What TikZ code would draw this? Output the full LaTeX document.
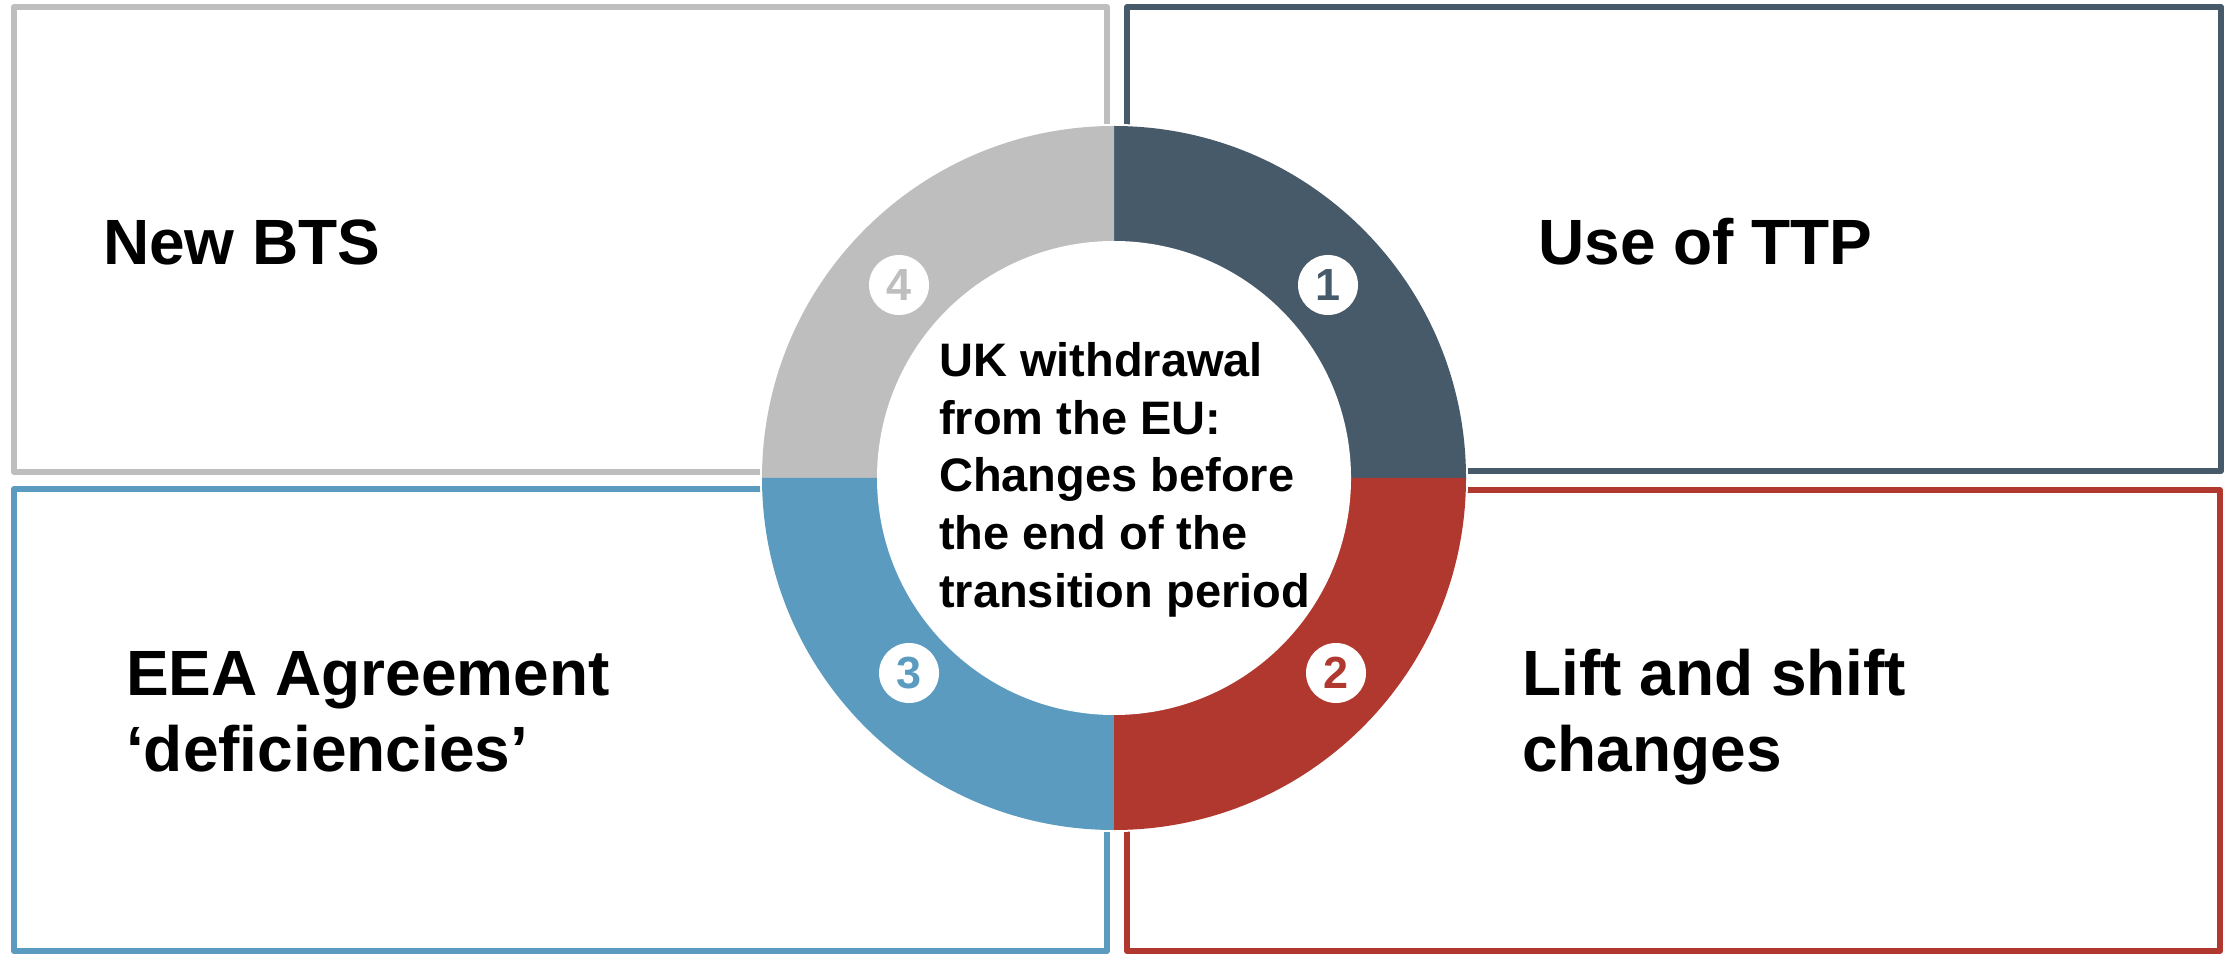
\documentclass[tikz,border=0pt]{standalone}
\usepackage{fontspec}
\setmainfont{Liberation Sans}
\definecolor{slate}{HTML}{475A6A}
\definecolor{brick}{HTML}{B0382E}
\definecolor{sky}{HTML}{5A9BBF}
\definecolor{ash}{HTML}{BEBEBE}
\tikzstyle{frame}=[line width=6pt, line join=round]
\tikzstyle{boxtext}=[anchor=base west, inner sep=0pt, align=left, font=\bfseries\fontsize{64}{76}\selectfont]
\tikzstyle{badge}=[circle, fill=white, minimum size=60pt, inner sep=0pt, font=\bfseries\fontsize{45}{45}\selectfont]

\begin{document}
\begin{tikzpicture}[x=1pt, y=1pt]
      \useasboundingbox (0,0) rectangle (2226,954);

      \draw[frame, ash] (14,482) rectangle (1107,947);
      \draw[frame, slate] (1127,483) rectangle (2221,947);
      \draw[frame, sky] (14,3) rectangle (1107,465);
      \draw[frame, brick] (1127,3) rectangle (2220,464);

      \coordinate (c) at (1114,476);
      \fill[white] (c) circle[radius=354];
      \foreach \a/\col in {0/slate, 90/ash, 180/sky, 270/brick}{
        \fill[\col] (c) -- ++(\a:352) arc[start angle=\a, end angle=\a+90, radius=352] -- cycle;
      }
      \fill[white] (c) circle[radius=237];

      \node[badge, text=slate] (one) at (1328,669) {1};
      \node[badge, text=brick] (two) at (1336,281) {2};
      \node[badge, text=sky] (three) at (909,281) {3};
      \node[badge, text=ash] (four) at (899,669) {4};

      % base of a multi-line node is its last line
      \node[anchor=base west, inner sep=0pt, align=left,
            font=\bfseries\fontsize{47}{57.6}\selectfont] (centre) at (939,347)
          {UK withdrawal\\from the EU:\\Changes before\\the end of the\\transition period};

      \node[boxtext] (bts) at (103,689) {New BTS};
      \node[boxtext] (ttp) at (1538,689) {Use of TTP};
      \node[boxtext] (eea) at (126,183) {EEA Agreement\\‘deficiencies’};
      \node[boxtext] (lift) at (1522,183) {Lift and shift\\changes};
    \end{tikzpicture}
\end{document}
